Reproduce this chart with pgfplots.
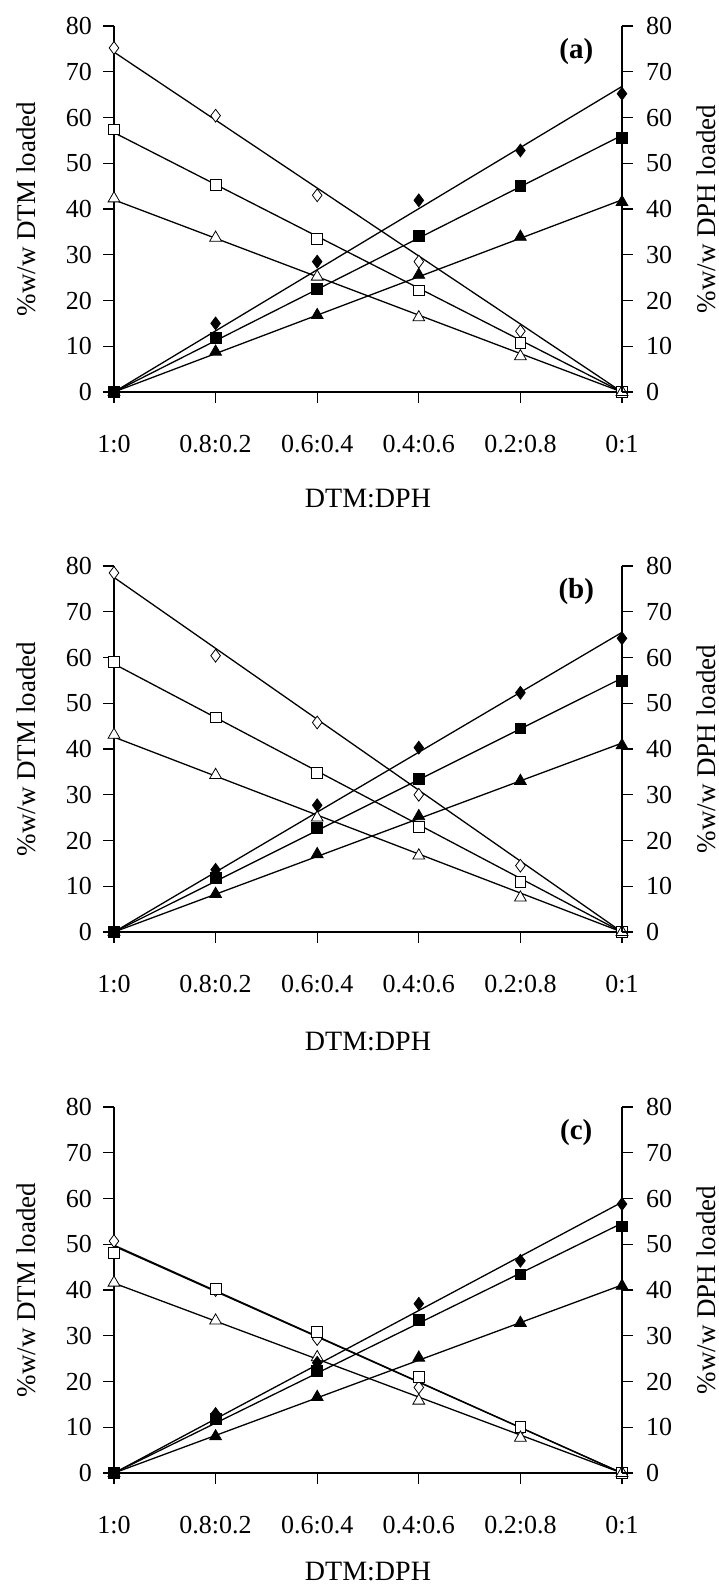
\documentclass[border=0pt]{standalone}
\usepackage{fontspec}
\setmainfont{Liberation Serif}
\usepackage{pgfplots}
\usepackage{pgfplotstable}
\pgfplotsset{compat=1.18}

% panel (a)
\pgfplotstableread{
x OD OS OT FD FS FT
0 75.2 57.4 42.3 0 0 0
1 60.4 45.3 33.7 15.0 11.8 8.8
2 43.0 33.4 25.2 28.5 22.6 16.8
3 28.5 22.2 16.3 41.9 34.2 25.6
4 13.3 10.7 7.8 52.8 45.0 33.9
5 0 0 0 65.2 55.6 41.5
}\dataA
\pgfplotstableread{
x OD OS OT FD FS FT
0 74.3 56.7 42.0 0 0 0
5 0 0 0 66.8 56.1 42.0
}\trendA
% panel (b)
\pgfplotstableread{
x OD OS OT FD FS FT
0 78.5 59.1 43.1 0 0 0
1 60.4 46.9 34.3 13.6 11.8 8.3
2 45.8 34.8 25.0 27.7 22.8 17.0
3 30.0 23.0 16.7 40.3 33.5 25.3
4 14.5 10.9 7.5 52.3 44.5 33.0
5 0 0 0 64.2 54.9 40.8
}\dataB
\pgfplotstableread{
x OD OS OT FD FS FT
0 77.5 58.6 42.6 0 0 0
5 0 0 0 65.5 55.5 41.3
}\trendB
% panel (c)
\pgfplotstableread{
x OD OS OT FD FS FT
0 50.7 48.1 41.6 0 0 0
1 40.0 40.2 33.3 12.9 11.8 8.0
2 29.3 30.9 25.3 24.1 22.4 16.6
3 18.7 21.0 15.8 37.0 33.5 25.2
4 9.3 10.0 7.7 46.4 43.4 32.8
5 0 0 0 58.8 53.9 40.9
}\dataC
\pgfplotstableread{
x OD OS OT FD FS FT
0 49.8 49.6 41.5 0 0 0
5 0 0 0 59.2 54.6 41.1
}\trendC

\pgfplotsset{
  base/.style={scale only axis, width=254bp, height=183bp,
    xmin=0, xmax=5, ymin=0, ymax=80, anchor=south west,
    /pgf/number format/assume math mode=true,
    tick label style={font=\fontsize{13bp}{15bp}\selectfont},
    tick align=outside, major tick length=5.5bp,
    every tick/.style={black, line width=0.65bp},
    axis line style={line width=0.65bp},
    ytick={0,10,...,80}, clip=false},
  leftax/.style={base, axis x line*=bottom, axis y line*=left,
    xtick={0,...,5},
    xticklabels={1:0,0.8:0.2,0.6:0.4,0.4:0.6,0.2:0.8,0:1},
    xticklabel style={yshift=-12.5bp},
    yticklabel style={xshift=-2bp},
    every axis y label/.style={at={(axis description cs:-0.172,0.5)}, rotate=90, anchor=center,
      font=\fontsize{13.5bp}{16bp}\selectfont},
    ylabel={\%w/w DTM loaded},
    xlabel={DTM:DPH}},
  rightax/.style={base, axis x line=none, axis y line*=right,
    yticklabel style={xshift=3bp},
    every axis y label/.style={at={(axis description cs:1.165,0.5)}, rotate=90, anchor=center,
      font=\fontsize{13.5bp}{16bp}\selectfont},
    ylabel={\%w/w DPH loaded}},
  trend/.style={black, line width=0.65bp, no marks},
  mk/.style={only marks, mark options={draw=black, line width=0.5bp, solid}},
}

\newcommand{\panel}[5]{%
  \begin{axis}[leftax, at={(57bp,#3)},
     every axis x label/.style={at={(axis description cs:0.5,#5)}, anchor=center,
       font=\fontsize{14bp}{16bp}\selectfont}]
    \addplot[trend] table[x=x,y=OD]{#2};
    \addplot[trend] table[x=x,y=OS]{#2};
    \addplot[trend] table[x=x,y=OT]{#2};
    \addplot[trend] table[x=x,y=FD]{#2};
    \addplot[trend] table[x=x,y=FS]{#2};
    \addplot[trend] table[x=x,y=FT]{#2};
    \addplot[mk, mark=diamond*, mark size=3.2bp, mark options={fill=white}] table[x=x,y=OD]{#1};
    \addplot[mk, mark=square*, mark size=2.7bp, mark options={fill=white}] table[x=x,y=OS]{#1};
    \addplot[mk, mark=triangle*, mark size=3.4bp, mark options={fill=white}] table[x=x,y=OT]{#1};
    \addplot[mk, mark=diamond*, mark size=3.2bp, mark options={fill=black}] table[x=x,y=FD]{#1};
    \addplot[mk, mark=square*, mark size=2.7bp, mark options={fill=black}] table[x=x,y=FS]{#1};
    \addplot[mk, mark=triangle*, mark size=3.4bp, mark options={fill=black}] table[x=x,y=FT]{#1};
    \node[font=\bfseries\fontsize{14.5bp}{16bp}\selectfont] at (axis description cs:0.91,0.929) {#4};
  \end{axis}
  \begin{axis}[rightax, at={(57bp,#3)}]
  \end{axis}
}

\begin{document}
\begin{tikzpicture}
\path[use as bounding box] (0,0) rectangle (359.5bp,-796.5bp);
\panel{\dataA}{\trendA}{-196bp}{(a)}{-0.29}
\panel{\dataB}{\trendB}{-466bp}{(b)}{-0.30}
\panel{\dataC}{\trendC}{-736.5bp}{(c)}{-0.27}
\end{tikzpicture}
\end{document}
